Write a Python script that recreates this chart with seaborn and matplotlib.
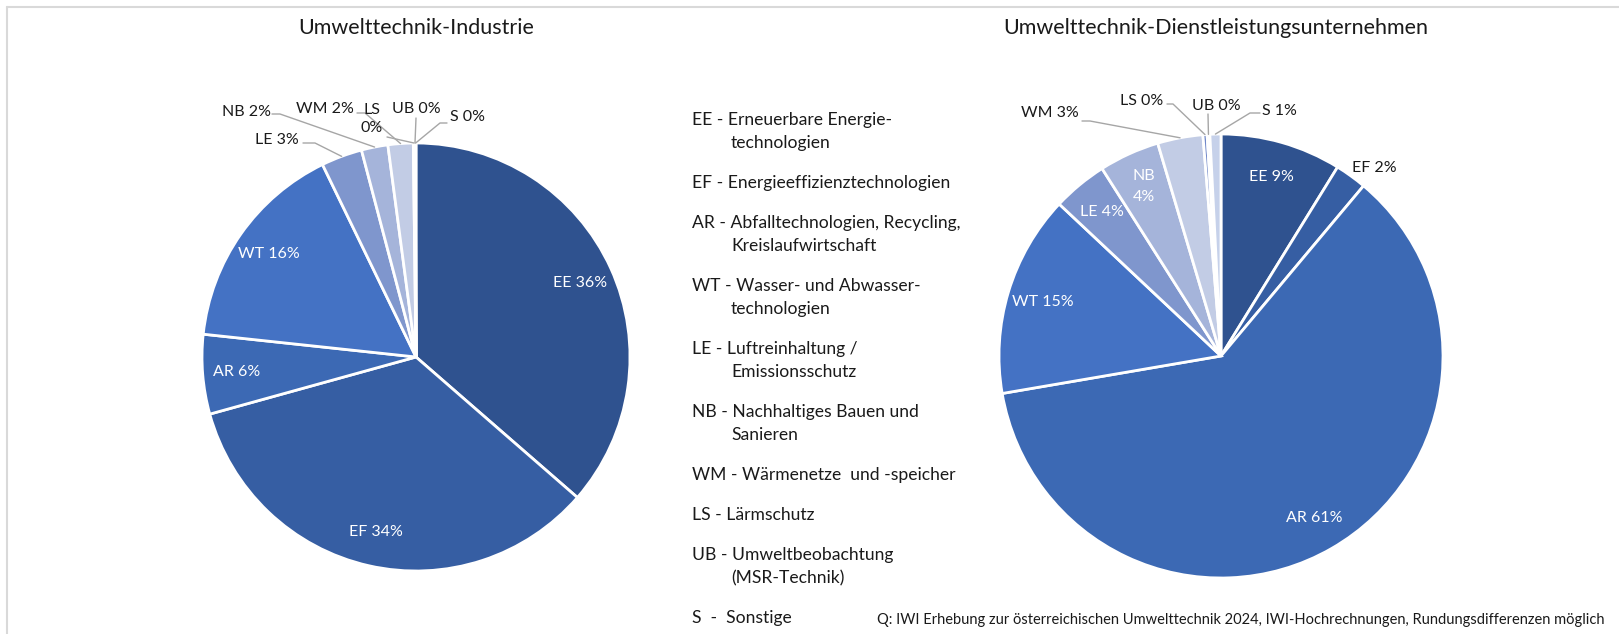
import numpy as np
import matplotlib.pyplot as plt
import seaborn as sns
from matplotlib.lines import Line2D

# data (shares in percent, clockwise from 12 o'clock)
categories = ['EE', 'EF', 'AR', 'WT', 'LE', 'NB', 'WM', 'LS', 'UB', 'S']
industrie = [36.4, 34.3, 6.0, 16.1, 3.1, 2.0, 1.9, 0.1, 0.05, 0.05]
dienstleistung = [8.8, 2.3, 61.2, 14.7, 4.0, 4.4, 3.3, 0.3, 0.2, 0.8]
titles = ['Umwelttechnik-Industrie', 'Umwelttechnik-Dienstleistungsunternehmen']

legend_codes = ['EE', 'EF', 'AR', 'WT', 'LE', 'NB', 'WM', 'LS', 'UB', 'S ']
legend_texts = [
    ['Erneuerbare Energie-', 'technologien'],
    ['Energieeffizienztechnologien'],
    ['Abfalltechnologien, Recycling,', 'Kreislaufwirtschaft'],
    ['Wasser- und Abwasser-', 'technologien'],
    ['Luftreinhaltung /', 'Emissionsschutz'],
    ['Nachhaltiges Bauen und', 'Sanieren'],
    ['Wärmenetze  und -speicher'],
    ['Lärmschutz'],
    ['Umweltbeobachtung', '(MSR-Technik)'],
    [' Sonstige'],
]
source = 'Q: IWI Erhebung zur österreichischen Umwelttechnik 2024, IWI-Hochrechnungen, Rundungsdifferenzen möglich'

colors = ['#2F528F', '#365EA3', '#3C69B4', '#4472C4', '#7F96CD', '#A5B4DA',
          '#C2CCE5', '#7088C9', '#9FB1DD', '#C6D1EA']

sns.set_theme(style='white')
plt.rcParams['font.family'] = ['Lato', 'DejaVu Sans']

W, H = 1619, 634
fig = plt.figure(figsize=(W / 100, H / 100), dpi=100)
ax = fig.add_axes([0, 0, 1, 1])


def Y(y):
    return H - y


# layout of the two pies (pixel units)
pies = [
    dict(values=industrie, center=(416, Y(357)), radius=214, title_x=416,
         wrapped={'LS'},
         outside={
             'LE': ((277, 140), [(303, 143), (315, 143)]),
             'NB': ((246, 112), [(272, 114), (280, 114)]),
             'WM': ((325, 109), [(357, 113), (365, 113)]),
             'LS': ((372, 119), [(387, 137)]),
             'UB': ((416, 109), [(416, 118)]),
             'S': ((467, 117), [(447, 123), (440, 123)]),
         }),
    dict(values=dienstleistung, center=(1221, Y(356)), radius=222, title_x=1216,
         wrapped={'NB'},
         outside={
             'EF': ((1374, 168), []),
             'WM': ((1050, 113), [(1082, 121), (1090, 121)]),
             'LS': ((1142, 101), [(1167, 104), (1173, 104)]),
             'UB': ((1216, 106), [(1208, 114)]),
             'S': ((1279, 111), [(1260, 113), (1250, 113)]),
         }),
]

for p, title in zip(pies, titles):
    cx, cy = p['center']
    R = p['radius']
    wedges, _ = ax.pie(p['values'], colors=colors, startangle=90, counterclock=False,
                       center=(cx, cy), radius=R, frame=True,
                       wedgeprops=dict(edgecolor='white', linewidth=2))
    for w, cat, v in zip(wedges, categories, p['values']):
        mid = np.deg2rad((w.theta1 + w.theta2) / 2)
        sep = '\n' if cat in p['wrapped'] else ' '
        label = f'{cat}{sep}{round(v):.0f}%'
        if cat in p['outside']:
            (tx, ty), pts = p['outside'][cat]
            ax.text(tx, Y(ty), label, ha='center', va='center', fontsize=11.5,
                    color='#1a1a1a', linespacing=1.3)
            if pts:
                xs = [x for x, _ in pts] + [cx + R * np.cos(mid)]
                ys = [Y(y) for _, y in pts] + [cy + R * np.sin(mid)]
                ax.plot(xs[::-1], ys[::-1], color='#A6A6A6', lw=1)
        else:
            r = 0.84 * R
            ax.text(cx + r * np.cos(mid), cy + r * np.sin(mid), label, ha='center',
                    va='center', fontsize=11.5, color='white', linespacing=1.6)
    ax.text(p['title_x'], Y(28), title, ha='center', va='center', fontsize=15.5,
            color='#1a1a1a')

ax.set_xlim(0, W)
ax.set_ylim(0, H)
ax.set_aspect('auto')
ax.axis('off')

# legend text block
y = 120
for code, lines in zip(legend_codes, legend_texts):
    ax.text(692, Y(y), f'{code} - {lines[0]}', ha='left', va='center', fontsize=12.6,
            color='#1a1a1a')
    for extra in lines[1:]:
        y += 23
        ax.text(731, Y(y), extra, ha='left', va='center', fontsize=12.6, color='#1a1a1a')
    y += 40

ax.text(877, Y(620), source, ha='left', va='center', fontsize=10.5, color='#1a1a1a')

# light frame at top and left
fig.add_artist(Line2D([7 / W, 1], [1 - 7 / H, 1 - 7 / H], color='#D9D9D9', lw=1.5,
                      transform=fig.transFigure))
fig.add_artist(Line2D([7 / W, 7 / W], [0, 1 - 7 / H], color='#D9D9D9', lw=1.5,
                      transform=fig.transFigure))

fig.savefig('out.png', dpi=100, facecolor='white')
